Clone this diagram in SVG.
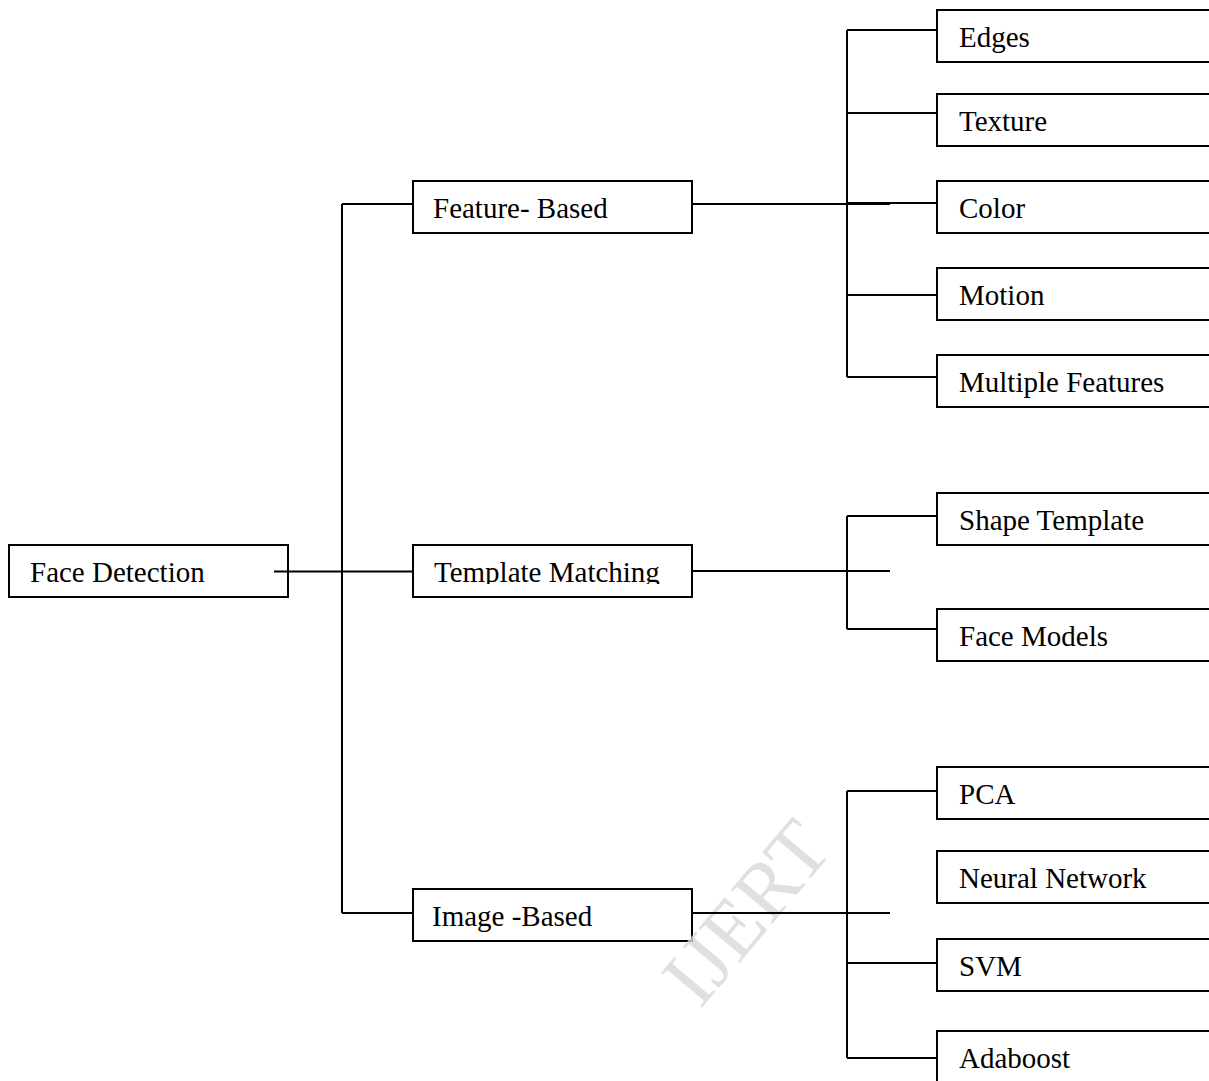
<svg xmlns="http://www.w3.org/2000/svg" width="1209" height="1081" viewBox="0 0 1209 1081">
<style>
.box{fill:#fff;stroke:#000;stroke-width:2}
.lbl{font-family:"Liberation Serif","Times New Roman","DejaVu Serif",serif;font-size:29px;fill:#000}
.ln{stroke:#000;stroke-width:2;fill:none}
.wm{font-family:"Liberation Serif","Times New Roman",serif;font-size:82px;fill:#d9d9d9}
</style>
<defs>
<clipPath id="tmclip"><rect x="413" y="545" width="279" height="39"/></clipPath>
</defs>
<rect width="1209" height="1081" fill="#fff"/>
<g id="face-detection"><rect class="box" x="9" y="545" width="279" height="52"/><text class="lbl" x="30" y="582">Face Detection</text></g>
<g id="feature-based"><rect class="box" x="413" y="181" width="279" height="52"/><text class="lbl" x="433" y="218">Feature- Based</text></g>
<g id="template-matching"><rect class="box" x="413" y="545" width="279" height="52"/><text class="lbl" x="434" y="582" clip-path="url(#tmclip)">Template Matching</text></g>
<g id="image-based"><rect class="box" x="413" y="889" width="279" height="52"/><text class="lbl" x="432" y="926">Image -Based</text></g>
<g id="edges"><rect class="box" x="937" y="10" width="290" height="52"/><text class="lbl" x="959" y="47">Edges</text></g>
<g id="texture"><rect class="box" x="937" y="94" width="290" height="52"/><text class="lbl" x="959" y="131">Texture</text></g>
<g id="color"><rect class="box" x="937" y="181" width="290" height="52"/><text class="lbl" x="959" y="218">Color</text></g>
<g id="motion"><rect class="box" x="937" y="268" width="290" height="52"/><text class="lbl" x="959" y="305">Motion</text></g>
<g id="multiple-features"><rect class="box" x="937" y="355" width="290" height="52"/><text class="lbl" x="959" y="392">Multiple Features</text></g>
<g id="shape-template"><rect class="box" x="937" y="493" width="290" height="52"/><text class="lbl" x="959" y="530">Shape Template</text></g>
<g id="face-models"><rect class="box" x="937" y="609" width="290" height="52"/><text class="lbl" x="959" y="646">Face Models</text></g>
<g id="pca"><rect class="box" x="937" y="767" width="290" height="52"/><text class="lbl" x="959" y="804">PCA</text></g>
<g id="neural-network"><rect class="box" x="937" y="851" width="290" height="52"/><text class="lbl" x="959" y="888">Neural Network</text></g>
<g id="svm"><rect class="box" x="937" y="939" width="290" height="52"/><text class="lbl" x="959" y="976">SVM</text></g>
<g id="adaboost"><rect class="box" x="937" y="1031" width="290" height="60"/><text class="lbl" x="959" y="1068">Adaboost</text></g>
<text class="wm" x="700" y="1010" transform="rotate(-50 700 1010)" opacity="0.8">IJERT</text>
<g id="connectors">
<path class="ln" d="M274 571.5H413"/>
<path class="ln" d="M342 204V913"/>
<path class="ln" d="M342 204H413M342 913H413"/>
<path class="ln" d="M692 204H890"/>
<path class="ln" d="M847 30V377"/>
<path class="ln" d="M847 30H937M847 113H937M847 203H937M847 295H937M847 377H937"/>
<path class="ln" d="M692 571H890"/>
<path class="ln" d="M847 516V629"/>
<path class="ln" d="M847 516H937M847 629H937"/>
<path class="ln" d="M692 913H890"/>
<path class="ln" d="M847 791V1058"/>
<path class="ln" d="M847 791H937M847 963H937M847 1058H937"/>
</g>
</svg>
